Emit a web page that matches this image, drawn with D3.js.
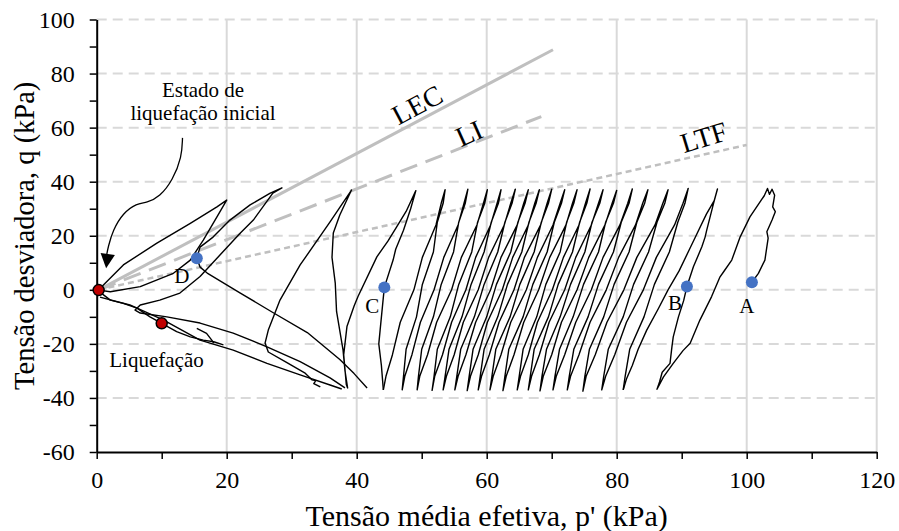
<!DOCTYPE html>
<html>
<head>
<meta charset="utf-8">
<script src="https://cdn.jsdelivr.net/npm/d3@7"></script>
<style>
body { margin: 0; background: #fff; }
svg text { font-family: "Liberation Serif", "Times New Roman", serif; fill: #000; }
</style>
</head>
<body>
<div id="container"></div>
<script>
const width = 899;
const height = 531;

// axis ticks
const xTicks = [0, 20, 40, 60, 80, 100, 120];
const xMinor = [10, 30, 50, 70, 90, 110];
const yTicks = [-60, -40, -20, 0, 20, 40, 60, 80, 100];
const yMinor = [-50, -30, -10, 10, 30, 50, 70, 90];

// reference lines (p', q)
const lecLine = [[0.3, 0], [70.2, 88.8]];
const liLine = [[0.3, 0], [68.4, 64.1]];
const ltfLine = [[0.3, 0], [100, 53.6]];

// stress path, first cycles (A, B)
const pathEarly = [
  [100.8, 2.8], [101.8, 6.1], [102.8, 11.0], [103.3, 19.1], [103.1, 21.5], [103.9, 25.8], [104.4, 28.9],
  [104.0, 30.7], [104.3, 35.0], [103.9, 37.2], [103.5, 35.3], [103.2, 37.5], [102.7, 34.8],
  [100.5, 27.0], [99.0, 19.6], [97.7, 11.0], [96.4, 6.5], [95.9, 4.8], [94.6, -2.5], [92.8, -11.2],
  [91.3, -19.8], [90.2, -22.5], [88.7, -27.2], [87.2, -32.2], [86.2, -36.8],
  [86.6, -34.0], [87.0, -30.5], [88.2, -27.2], [88.5, -21], [88.7, -17.4], [89.5, -10.0], [90.3, -4],
  [90.8, 1.2], [91.8, 8.5], [93.1, 15.9], [93.6, 19.5], [93.85, 22.1], [94.9, 32.0], [95.5, 37.3],
  [95.0, 33], [93.8, 28], [92.2, 20], [91.2, 15], [89.6, 7], [87.9, 0], [86.4, -7], [84.6, -15],
  [83.3, -22], [82.4, -28], [81.5, -33], [81.0, -37]
];

// stress path, middle cycles
const pathMiddle = [
  [81.0, -37], [81.3, -32], [82.0, -22], [84.2, -10], [85.8, 2], [88.1, 14], [89.4, 25], [90.5, 32], [91.0, 37.5],
  [90.2, 32], [88.9, 24], [86.1, 12], [84.1, 0], [81.5, -12], [79.7, -24], [78.3, -32], [77.7, -37],
  [78.0, -32], [78.7, -22], [81.0, -10], [82.6, 2], [84.9, 14], [86.2, 25], [87.4, 32], [87.9, 37],
  [87.1, 32], [85.9, 24], [83.1, 12], [81.1, 0], [78.5, -12], [76.7, -24], [75.3, -32], [74.8, -37.5],
  [75.1, -32], [75.8, -22], [78.0, -10], [79.6, 2], [81.9, 14], [83.1, 25], [84.3, 32], [84.8, 37],
  [84.0, 32], [82.9, 24], [80.3, 12], [78.4, 0], [75.9, -12], [74.2, -24], [72.9, -32], [72.4, -37],
  [72.7, -32], [73.4, -22], [75.6, -10], [77.2, 2], [79.5, 14], [80.7, 25], [81.9, 32], [82.4, 37.3],
  [81.7, 32], [80.5, 24], [77.9, 12], [76.1, 0], [73.7, -12], [72.0, -24], [70.7, -32], [70.2, -37],
  [70.5, -32], [71.2, -22], [73.3, -10], [74.9, 2], [77.2, 14], [78.3, 25], [79.5, 32], [80.0, 36.8],
  [79.3, 32], [78.2, 24], [75.7, 12], [73.9, 0], [71.5, -12], [70.0, -24], [68.7, -32], [68.2, -37.4],
  [68.5, -32], [69.2, -22], [71.3, -10], [72.9, 2], [75.1, 14], [76.2, 25], [77.4, 32], [77.9, 37],
  [77.2, 32], [76.1, 24], [73.7, 12], [72.0, 0], [69.6, -12], [68.1, -24], [66.9, -32], [66.4, -37],
  [66.7, -32], [67.3, -22], [69.5, -10], [71.0, 2], [73.2, 14], [74.3, 25], [75.4, 32], [75.9, 37.3],
  [75.2, 32], [74.2, 24], [71.8, 12], [70.1, 0], [67.8, -12], [66.4, -24], [65.2, -32], [64.7, -37],
  [65.0, -32], [65.6, -22], [67.7, -10], [69.1, 2], [71.3, 14], [72.3, 25], [73.4, 32], [73.9, 37],
  [73.2, 32], [72.2, 24], [69.7, 12], [68.0, 0], [65.7, -12], [64.2, -24], [63.0, -32], [62.5, -37.3],
  [62.8, -32], [63.4, -22], [65.6, -10], [67.1, 2], [69.3, 14], [70.4, 25], [71.5, 32], [72.0, 37],
  [71.3, 32], [70.2, 24], [67.8, 12], [66.1, 0], [63.7, -12], [62.2, -24], [61.0, -32], [60.5, -37],
  [60.8, -32], [61.4, -22], [63.6, -10], [65.1, 2], [67.3, 14], [68.4, 25], [69.5, 32], [70.0, 37.2],
  [69.3, 32], [68.3, 24], [65.8, 12], [64.2, 0], [61.9, -12], [60.4, -24], [59.2, -32], [58.7, -37],
  [59.0, -32], [59.6, -22], [61.7, -10], [63.2, 2], [65.4, 14], [66.5, 25], [67.6, 32], [68.1, 37],
  [67.4, 32], [66.4, 24], [64.0, 12], [62.4, 0], [60.1, -12], [58.7, -24], [57.5, -32], [57.0, -37.3],
  [57.3, -32], [57.9, -22], [60.0, -10], [61.5, 2], [63.7, 14], [64.8, 25], [65.9, 32], [66.4, 37],
  [65.7, 32], [64.7, 24], [62.2, 12], [60.6, 0], [58.3, -12], [56.8, -24], [55.6, -32], [55.1, -37],
  [55.4, -32], [56.0, -22], [58.1, -10], [59.6, 2], [61.7, 14], [62.8, 25], [63.9, 32], [64.4, 37.2],
  [63.7, 32], [62.7, 24], [60.3, 12], [58.7, 0], [56.4, -12], [55.0, -24], [53.8, -32], [53.3, -37],
  [53.6, -32], [54.2, -22], [56.2, -10], [57.6, 2], [59.6, 14], [60.7, 25], [61.8, 32], [62.2, 37],
  [61.6, 32], [60.6, 24], [58.3, 12], [56.8, 0], [54.6, -12], [53.2, -24], [52.0, -32], [51.6, -37.2],
  [51.9, -32], [52.4, -22], [54.4, -10], [55.7, 2], [57.7, 14], [58.6, 25], [59.7, 32], [60.1, 37],
  [59.5, 32], [58.5, 24], [56.1, 12], [54.6, 0], [52.3, -12], [50.9, -24], [49.7, -32], [49.3, -37],
  [49.5, -32], [50.0, -22], [51.8, -10], [53.0, 2], [54.9, 14], [55.7, 25], [56.7, 32], [57.1, 37.2],
  [56.5, 32], [55.6, 24], [53.4, 12], [51.9, 0], [49.8, -12], [48.5, -24], [47.4, -32], [47.0, -37],
  [47.2, -32], [47.6, -22], [49.2, -10], [50.1, 2], [51.8, 14], [52.4, 25], [53.3, 32], [53.6, 37],
  [53.0, 32], [52.2, 24], [50.1, 12], [48.8, 0], [46.7, -12], [45.5, -24], [44.5, -32], [44.1, -37]
];

// stress path, last cycles before liquefaction (through C)
const pathLate = [
  [44.1, -37], [43.8, -28], [43.4, -20], [43.6, -15], [44.25, 0.9], [45.6, 11], [46.0, 15], [47.2, 22], [48.3, 30], [49.1, 36.7],
  [47.6, 29], [46.15, 23.3], [44.8, 18], [43.1, 12.2], [40.2, -2.5], [39.6, -6], [38.5, -13.6], [38.0, -24], [38.4, -35], [38.6, -36.3],
  [38.2, -30], [37.9, -22.3], [36.9, -8], [36.7, 2.5], [36.2, 12], [36.4, 21], [37.4, 27.7], [39.2, 36.9],
  [35.9, 25.1], [31.3, 9.2], [28.2, -3.8], [26.4, -14.9], [25.9, -19.7],
  [26.4, -23], [29.0, -26.6], [32.0, -30.7], [33.1, -33.3], [33.7, -33.6], [33.4, -34.7], [34.4, -35.9]
];

// liquefaction phase
const pathLiq = [
  [41.6, -36.3], [39.6, -31], [37.4, -25.8], [32.4, -15.8], [27.1, -8.4], [22.1, -1.2], [17.0, 6.2],
  [15.9, 8.4], [15.4, 11.7], [15.9, 15.8], [17.9, 19.5], [20.5, 25.8], [23.6, 31.4], [26.7, 35.8], [28.5, 37.7],
  [27.1, 35.8], [24.1, 25.8], [22.1, 21.0], [19.0, 13], [15.9, 4.9], [12.8, -1.2], [9.7, -3.8], [6.7, -5.6],
  [5.9, -7.5], [6.7, -8.6], [10.8, -10.0], [15.9, -12.3], [21.0, -16.0], [26.2, -21.1], [31.3, -26.6],
  [35.9, -32.6], [38.2, -36.3]
];
const pathLoopD = [
  [0.3, 0], [4.1, 9.2], [9.2, 17.2], [14.4, 24.6], [18.5, 30.7], [20.0, 33.2], [18.5, 27.0], [16.4, 18.4],
  [14.4, 11.0], [11.8, 6.1], [6.7, 1.2], [2.1, -0.7], [0.3, -0.1]
];
const pathLower = [
  [0.3, -0.5], [2.1, -3.8], [4.1, -5.0], [6.2, -6.8], [8.2, -10.0], [10.0, -12.4], [12.3, -15.5],
  [14.4, -17.4], [16.4, -18.6], [18.0, -19.2], [19.5, -20.4]
];
const pathHook = [[15.4, -14.3], [16.9, -16.1], [17.7, -18.6], [18.0, -19.7]];
const pathLower2 = [
  [0.5, -2.7], [5.1, -5.6], [10.3, -11.2], [15.9, -18.6], [21.0, -22.3], [26.2, -27.2], [31.3, -31.5],
  [35.9, -35.2], [37.7, -36.7]
];

// marked states
const bluePoints = [
  {label: "A", p: 100.8, q: 2.8},
  {label: "B", p: 90.8, q: 1.2},
  {label: "C", p: 44.25, q: 0.9},
  {label: "D", p: 15.4, q: 11.7}
];
const redPoints = [
  {p: 0.3, q: -0.1},
  {p: 10.0, q: -12.4}
];

// curved arrow for "Estado de liquefação inicial"
const arrowCurve = [[13.2, 56.2], [13.1, 49.2], [11.7, 40.6], [9.7, 34.4], [7.7, 32.2], [6.15, 32.0],
  [4.05, 28.4], [2.5, 22.1], [1.75, 15.8], [1.5, 12.5]];
const arrowHead = [[1.45, 8.0], [0.6, 13.6], [2.8, 12.9]];

const svg = d3.select("#container").append("svg")
    .attr("width", width)
    .attr("height", height);

const x = d3.scaleLinear().domain([0, 120]).range([96.7, 876.7]);
const y = d3.scaleLinear().domain([-60, 100]).range([452, 19.5]);

// grid
svg.append("g").selectAll("line").data(xTicks.slice(1)).enter().append("line")
    .attr("x1", d => x(d)).attr("x2", d => x(d))
    .attr("y1", y(-60)).attr("y2", y(100))
    .attr("stroke", "#d9d9d9").attr("stroke-width", 2);
svg.append("g").selectAll("line").data(yTicks.slice(1)).enter().append("line")
    .attr("x1", x(0)).attr("x2", x(120))
    .attr("y1", d => y(d)).attr("y2", d => y(d))
    .attr("stroke", "#d9d9d9").attr("stroke-width", 2)
    .attr("stroke-dasharray", "10,6");

// axes
svg.append("g")
    .attr("transform", "translate(0," + y(-60) + ")")
    .call(d3.axisBottom(x).tickValues(xTicks).tickSize(7).tickSizeOuter(0).tickPadding(12).tickFormat(d => d));
svg.append("g")
    .attr("transform", "translate(0," + y(-60) + ")")
    .call(d3.axisBottom(x).tickValues(xMinor).tickSize(7).tickSizeOuter(0).tickFormat(""))
    .select(".domain").remove();
svg.append("g")
    .attr("transform", "translate(" + x(0) + ",0)")
    .call(d3.axisLeft(y).tickValues(yTicks).tickSize(7).tickSizeOuter(0).tickPadding(15).tickFormat(d => d));
svg.append("g")
    .attr("transform", "translate(" + x(0) + ",0)")
    .call(d3.axisLeft(y).tickValues(yMinor).tickSize(7).tickSizeOuter(0).tickFormat(""))
    .select(".domain").remove();

svg.selectAll(".domain").attr("stroke", "#000").attr("stroke-width", 2);
svg.selectAll(".tick line").attr("stroke", "#000").attr("stroke-width", 1.5);
svg.selectAll(".tick text")
    .style("font-family", "'Liberation Serif', serif")
    .style("font-size", "24px");

const line = d3.line()
    .x(d => x(d[0]))
    .y(d => y(d[1]));

// fit lines
svg.append("path").attr("d", line(lecLine))
    .attr("fill", "none").attr("stroke", "#bfbfbf").attr("stroke-width", 3);
svg.append("path").attr("d", line(liLine))
    .attr("fill", "none").attr("stroke", "#bfbfbf").attr("stroke-width", 3)
    .attr("stroke-dasharray", "18,9");
svg.append("path").attr("d", line(ltfLine))
    .attr("fill", "none").attr("stroke", "#bfbfbf").attr("stroke-width", 2.5)
    .attr("stroke-dasharray", "6,4");

// stress path
[pathEarly, pathMiddle, pathLate, pathLiq, pathLoopD, pathLower, pathHook, pathLower2].forEach(function(p) {
    svg.append("path").attr("d", line(p))
        .attr("fill", "none")
        .attr("stroke", "#000")
        .attr("stroke-width", 1.4)
        .attr("stroke-linejoin", "round");
});

// points
svg.selectAll(".blue").data(bluePoints).enter().append("circle")
    .attr("cx", d => x(d.p)).attr("cy", d => y(d.q))
    .attr("r", 6).attr("fill", "#4472c4");
svg.selectAll(".red").data(redPoints).enter().append("circle")
    .attr("cx", d => x(d.p)).attr("cy", d => y(d.q))
    .attr("r", 5.5).attr("fill", "#c00000")
    .attr("stroke", "#000").attr("stroke-width", 1.5);

// point labels
const labelOffset = {A: [-5, 31], B: [-12, 23], C: [-12, 26], D: [-15, 25]};
svg.selectAll(".plabel").data(bluePoints).enter().append("text")
    .attr("x", d => x(d.p) + labelOffset[d.label][0])
    .attr("y", d => y(d.q) + labelOffset[d.label][1])
    .attr("text-anchor", "middle")
    .style("font-size", "21px")
    .text(d => d.label);

// line labels
const lineLabels = [
  {text: "LEC", p: 49.3, q: 68.4, angle: -28},
  {text: "LI", p: 57.3, q: 57.9, angle: -24},
  {text: "LTF", p: 93.4, q: 56.4, angle: -17}
];
svg.selectAll(".llabel").data(lineLabels).enter().append("text")
    .attr("transform", d => "translate(" + x(d.p) + "," + y(d.q) + ") rotate(" + d.angle + ")")
    .attr("text-anchor", "middle")
    .attr("dominant-baseline", "central")
    .style("font-size", "28px")
    .text(d => d.text);

// annotations
svg.append("path")
    .attr("d", d3.line().curve(d3.curveBasis).x(d => x(d[0])).y(d => y(d[1]))(arrowCurve))
    .attr("fill", "none").attr("stroke", "#000").attr("stroke-width", 1.3);
svg.append("path")
    .attr("d", line(arrowHead) + "Z")
    .attr("fill", "#000");

svg.append("text").attr("x", 203).attr("y", 97).attr("text-anchor", "middle")
    .style("font-size", "21px").text("Estado de");
svg.append("text").attr("x", 203).attr("y", 120).attr("text-anchor", "middle")
    .style("font-size", "21px").text("liquefação inicial");
svg.append("text").attr("x", 156.5).attr("y", 366.7).attr("text-anchor", "middle")
    .style("font-size", "21px").text("Liquefação");

// axis titles
svg.append("text")
    .attr("x", (x(0) + x(120)) / 2)
    .attr("y", 526)
    .attr("text-anchor", "middle")
    .style("font-size", "30px")
    .text("Tensão média efetiva, p' (kPa)");
svg.append("text")
    .attr("transform", "translate(34," + (y(-60) + y(100)) / 2 + ") rotate(-90)")
    .attr("text-anchor", "middle")
    .style("font-size", "28.5px")
    .text("Tensão desviadora, q (kPa)");
</script>
</body>
</html>
